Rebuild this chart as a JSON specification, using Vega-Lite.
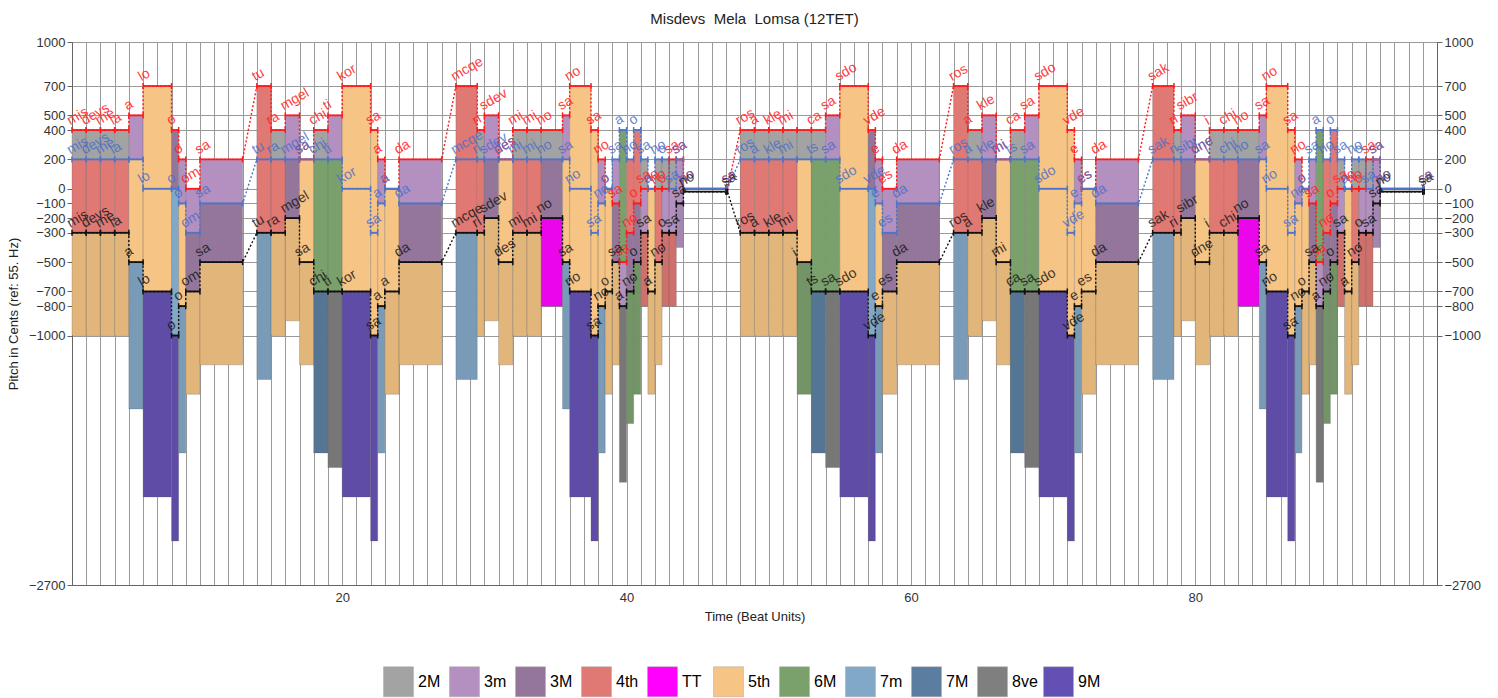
{
"$schema":"https://vega.github.io/schema/vega-lite/v6.json",
"width":1365,"height":543,
"autosize":{"type":"none"},
"padding":{"left":72,"top":42,"right":61,"bottom":113},
"background":"white",
"title":{"text":"Misdevs\u00a0 Mela\u00a0 Lomsa (12TET)","fontSize":15,"fontWeight":"normal","font":"Liberation Sans","color":"#222","offset":9,"anchor":"middle"},
"config":{"font":"Liberation Sans","view":{"stroke":"#666","strokeWidth":1},
"axis":{"labelFont":"Liberation Sans","labelFontSize":13,"labelColor":"#333","titleFont":"Liberation Sans","titleFontSize":13,"titleFontWeight":"normal","titleColor":"#222","domainColor":"#666","tickColor":"#666","gridColor":"#9a9a9a","gridOpacity":1},
"legend":{"labelFont":"Liberation Sans"}},
"datasets":{
"seg":[
{"a":1,"b":2,"r":400,"u":200,"k":-300,"s":"mis"},
{"a":2,"b":3,"r":400,"u":200,"k":-300,"s":"devs"},
{"a":3,"b":4,"r":400,"u":200,"k":-300,"s":"me"},
{"a":4,"b":5,"r":400,"u":200,"k":-300,"s":"la"},
{"a":5,"b":6,"r":500,"u":200,"k":-500,"s":"a","su":""},
{"a":6,"b":8,"r":700,"u":0,"k":-700,"s":"lo"},
{"a":8,"b":8.5,"r":400,"u":0,"k":-1000,"s":"o"},
{"a":8.5,"b":9,"r":200,"u":-100,"k":-800,"s":"o"},
{"a":9,"b":10,"r":0,"u":-300,"k":-700,"s":"om"},
{"a":10,"b":13,"r":200,"u":-100,"k":-500,"s":"sa"},
{"a":14,"b":15,"r":700,"u":200,"k":-300,"s":"tu"},
{"a":15,"b":16,"r":400,"u":200,"k":-300,"s":"ra"},
{"a":16,"b":17,"r":500,"u":200,"k":-200,"s":"mgel"},
{"a":17,"b":18,"r":200,"u":200,"k":-500,"s":"sa"},
{"a":18,"b":19,"r":400,"u":200,"k":-700,"s":"chi"},
{"a":19,"b":20,"r":500,"u":200,"k":-700,"s":"ti"},
{"a":20,"b":22,"r":700,"u":0,"k":-700,"s":"kor"},
{"a":22,"b":22.5,"r":400,"u":-300,"k":-1000,"s":"sa"},
{"a":22.5,"b":23,"r":200,"u":-100,"k":-800,"s":"a"},
{"a":23,"b":24,"r":0,"u":0,"k":-700,"s":"a"},
{"a":24,"b":27,"r":200,"u":-100,"k":-500,"s":"da"},
{"a":28,"b":29.5,"r":700,"u":200,"k":-300,"s":"mcqe"},
{"a":29.5,"b":30,"r":400,"u":200,"k":-300,"s":"ri"},
{"a":30,"b":31,"r":500,"u":200,"k":-200,"s":"sdev"},
{"a":31,"b":32,"r":200,"u":200,"k":-500,"s":"des"},
{"a":32,"b":33,"r":400,"u":200,"k":-300,"s":"mi"},
{"a":33,"b":34,"r":400,"u":200,"k":-300,"s":"mi"},
{"a":34,"b":35.5,"r":400,"u":200,"k":-200,"s":"no"},
{"a":35.5,"b":36,"r":500,"u":200,"k":-500,"s":"sa"},
{"a":36,"b":37.5,"r":700,"u":0,"k":-700,"s":"no"},
{"a":37.5,"b":38,"r":400,"u":-300,"k":-1000,"s":"sa"},
{"a":38,"b":38.5,"r":200,"u":-100,"k":-800,"s":"no"},
{"a":38.5,"b":39,"r":0,"u":0,"k":-700,"s":"o"},
{"a":39,"b":39.5,"r":-100,"u":200,"k":-500,"s":"sa"},
{"a":39.5,"b":40,"r":-500,"u":400,"k":-800,"s":"a","sr":"sa"},
{"a":40,"b":40.5,"r":-300,"u":200,"k":-700,"s":"no"},
{"a":40.5,"b":41,"r":-100,"u":400,"k":-500,"s":"o"},
{"a":41,"b":41.5,"r":0,"u":200,"k":-300,"s":"sa"},
{"a":41.5,"b":42,"r":0,"u":0,"k":-700,"s":"a","sr":"no"},
{"a":42,"b":42.5,"r":0,"u":200,"k":-500,"s":"no"},
{"a":42.5,"b":43,"r":0,"u":200,"k":-300,"s":"o"},
{"a":43,"b":43.5,"r":200,"u":0,"k":-300,"s":"sa"},
{"a":43.5,"b":44,"r":200,"u":200,"k":-100,"s":"sa"},
{"a":44,"b":47,"r":0,"u":0,"k":-20,"s":"no"},
{"a":47,"b":47.1,"r":0,"u":0,"k":-20,"s":"sa"},
{"a":48,"b":49,"r":400,"u":200,"k":-300,"s":"ros"},
{"a":49,"b":50,"r":400,"u":200,"k":-300,"s":"a"},
{"a":50,"b":51,"r":400,"u":200,"k":-300,"s":"kle"},
{"a":51,"b":52,"r":400,"u":200,"k":-300,"s":"mi"},
{"a":52,"b":53,"r":400,"u":200,"k":-500,"s":"","sk":"i"},
{"a":53,"b":54,"r":400,"u":200,"k":-700,"s":"ts","sr":"ca"},
{"a":54,"b":55,"r":500,"u":200,"k":-700,"s":"sa"},
{"a":55,"b":57,"r":700,"u":0,"k":-700,"s":"sdo"},
{"a":57,"b":57.5,"r":400,"u":0,"k":-1000,"s":"vde"},
{"a":57.5,"b":58,"r":200,"u":-100,"k":-800,"s":"e"},
{"a":58,"b":59,"r":0,"u":-300,"k":-700,"s":"es"},
{"a":59,"b":62,"r":200,"u":-100,"k":-500,"s":"da"},
{"a":63,"b":64,"r":700,"u":200,"k":-300,"s":"ros"},
{"a":64,"b":65,"r":400,"u":200,"k":-300,"s":"a"},
{"a":65,"b":66,"r":500,"u":200,"k":-200,"s":"kle"},
{"a":66,"b":67,"r":200,"u":200,"k":-500,"s":"mi"},
{"a":67,"b":68,"r":400,"u":200,"k":-700,"s":"ca","su":"ts"},
{"a":68,"b":69,"r":500,"u":200,"k":-700,"s":"sa"},
{"a":69,"b":71,"r":700,"u":0,"k":-700,"s":"sdo"},
{"a":71,"b":71.5,"r":400,"u":-300,"k":-1000,"s":"vde"},
{"a":71.5,"b":72,"r":200,"u":-100,"k":-800,"s":"e"},
{"a":72,"b":73,"r":0,"u":0,"k":-700,"s":"es"},
{"a":73,"b":76,"r":200,"u":-100,"k":-500,"s":"da"},
{"a":77,"b":78.5,"r":700,"u":200,"k":-300,"s":"sak"},
{"a":78.5,"b":79,"r":400,"u":200,"k":-300,"s":"ri"},
{"a":79,"b":80,"r":500,"u":200,"k":-200,"s":"sibr"},
{"a":80,"b":81,"r":200,"u":200,"k":-500,"s":"dne"},
{"a":81,"b":82,"r":400,"u":200,"k":-300,"s":"i"},
{"a":82,"b":83,"r":400,"u":200,"k":-300,"s":"chi"},
{"a":83,"b":84.5,"r":400,"u":200,"k":-200,"s":"no"},
{"a":84.5,"b":85,"r":500,"u":200,"k":-500,"s":"sa"},
{"a":85,"b":86.5,"r":700,"u":0,"k":-700,"s":"no"},
{"a":86.5,"b":87,"r":400,"u":-300,"k":-1000,"s":"sa"},
{"a":87,"b":87.5,"r":200,"u":-100,"k":-800,"s":"no"},
{"a":87.5,"b":88,"r":0,"u":0,"k":-700,"s":"o"},
{"a":88,"b":88.5,"r":-100,"u":200,"k":-500,"s":"sa"},
{"a":88.5,"b":89,"r":-500,"u":400,"k":-800,"s":"a","sr":"sa"},
{"a":89,"b":89.5,"r":-300,"u":200,"k":-700,"s":"no"},
{"a":89.5,"b":90,"r":-100,"u":400,"k":-500,"s":"o"},
{"a":90,"b":90.5,"r":0,"u":200,"k":-300,"s":"sa"},
{"a":90.5,"b":91,"r":0,"u":0,"k":-700,"s":"a","sr":"no"},
{"a":91,"b":91.5,"r":0,"u":200,"k":-500,"s":"no"},
{"a":91.5,"b":92,"r":0,"u":200,"k":-300,"s":"o"},
{"a":92,"b":92.5,"r":200,"u":0,"k":-300,"s":"sa"},
{"a":92.5,"b":93,"r":200,"u":200,"k":-100,"s":"sa"},
{"a":93,"b":96,"r":0,"u":0,"k":-20,"s":"no"},
{"a":96,"b":96.1,"r":0,"u":0,"k":-20,"s":"sa"}
],
"bars":[
{"a":1,"b":2,"lo":200,"hi":400,"iv":"2M"},{"a":1,"b":2,"lo":-300,"hi":200,"iv":"4th"},{"a":1,"b":2,"lo":-1000,"hi":-300,"iv":"5th","h":1},
{"a":2,"b":3,"lo":200,"hi":400,"iv":"2M"},{"a":2,"b":3,"lo":-300,"hi":200,"iv":"4th"},{"a":2,"b":3,"lo":-1000,"hi":-300,"iv":"5th","h":1},
{"a":3,"b":4,"lo":200,"hi":400,"iv":"2M"},{"a":3,"b":4,"lo":-300,"hi":200,"iv":"4th"},{"a":3,"b":4,"lo":-1000,"hi":-300,"iv":"5th","h":1},
{"a":4,"b":5,"lo":200,"hi":400,"iv":"2M"},{"a":4,"b":5,"lo":-300,"hi":200,"iv":"4th"},{"a":4,"b":5,"lo":-1000,"hi":-300,"iv":"5th","h":1},
{"a":5,"b":6,"lo":200,"hi":500,"iv":"3m"},{"a":5,"b":6,"lo":-500,"hi":200,"iv":"5th"},{"a":5,"b":6,"lo":-1500,"hi":-500,"iv":"7m","h":1},
{"a":6,"b":8,"lo":0,"hi":700,"iv":"5th"},{"a":6,"b":8,"lo":-700,"hi":0,"iv":"5th"},{"a":6,"b":8,"lo":-2100,"hi":-700,"iv":"9M","h":1},
{"a":8,"b":8.5,"lo":0,"hi":400,"iv":"3M"},{"a":8,"b":8.5,"lo":-1000,"hi":0,"iv":"7m"},{"a":8,"b":8.5,"lo":-2400,"hi":-1000,"iv":"9M","h":1},
{"a":8.5,"b":9,"lo":-100,"hi":200,"iv":"3m"},{"a":8.5,"b":9,"lo":-800,"hi":-100,"iv":"5th"},{"a":8.5,"b":9,"lo":-1800,"hi":-800,"iv":"7m","h":1},
{"a":9,"b":10,"lo":-300,"hi":0,"iv":"3m"},{"a":9,"b":10,"lo":-700,"hi":-300,"iv":"3M"},{"a":9,"b":10,"lo":-1400,"hi":-700,"iv":"5th","h":1},
{"a":10,"b":13,"lo":-100,"hi":200,"iv":"3m"},{"a":10,"b":13,"lo":-500,"hi":-100,"iv":"3M"},{"a":10,"b":13,"lo":-1200,"hi":-500,"iv":"5th","h":1},
{"a":14,"b":15,"lo":200,"hi":700,"iv":"4th"},{"a":14,"b":15,"lo":-300,"hi":200,"iv":"4th"},{"a":14,"b":15,"lo":-1300,"hi":-300,"iv":"7m","h":1},
{"a":15,"b":16,"lo":200,"hi":400,"iv":"2M"},{"a":15,"b":16,"lo":-300,"hi":200,"iv":"4th"},{"a":15,"b":16,"lo":-1000,"hi":-300,"iv":"5th","h":1},
{"a":16,"b":17,"lo":200,"hi":500,"iv":"3m"},{"a":16,"b":17,"lo":-200,"hi":200,"iv":"3M"},{"a":16,"b":17,"lo":-900,"hi":-200,"iv":"5th","h":1},
{"a":17,"b":18,"lo":-500,"hi":200,"iv":"5th"},{"a":17,"b":18,"lo":-1200,"hi":-500,"iv":"5th","h":1},
{"a":18,"b":19,"lo":200,"hi":400,"iv":"2M"},{"a":18,"b":19,"lo":-700,"hi":200,"iv":"6M"},{"a":18,"b":19,"lo":-1800,"hi":-700,"iv":"7M","h":1},
{"a":19,"b":20,"lo":200,"hi":500,"iv":"3m"},{"a":19,"b":20,"lo":-700,"hi":200,"iv":"6M"},{"a":19,"b":20,"lo":-1900,"hi":-700,"iv":"8ve","h":1},
{"a":20,"b":22,"lo":0,"hi":700,"iv":"5th"},{"a":20,"b":22,"lo":-700,"hi":0,"iv":"5th"},{"a":20,"b":22,"lo":-2100,"hi":-700,"iv":"9M","h":1},
{"a":22,"b":22.5,"lo":-300,"hi":400,"iv":"5th"},{"a":22,"b":22.5,"lo":-1000,"hi":-300,"iv":"5th"},{"a":22,"b":22.5,"lo":-2400,"hi":-1000,"iv":"9M","h":1},
{"a":22.5,"b":23,"lo":-100,"hi":200,"iv":"3m"},{"a":22.5,"b":23,"lo":-800,"hi":-100,"iv":"5th"},{"a":22.5,"b":23,"lo":-1800,"hi":-800,"iv":"7m","h":1},
{"a":23,"b":24,"lo":-700,"hi":0,"iv":"5th"},{"a":23,"b":24,"lo":-1400,"hi":-700,"iv":"5th","h":1},
{"a":24,"b":27,"lo":-100,"hi":200,"iv":"3m"},{"a":24,"b":27,"lo":-500,"hi":-100,"iv":"3M"},{"a":24,"b":27,"lo":-1200,"hi":-500,"iv":"5th","h":1},
{"a":28,"b":29.5,"lo":200,"hi":700,"iv":"4th"},{"a":28,"b":29.5,"lo":-300,"hi":200,"iv":"4th"},{"a":28,"b":29.5,"lo":-1300,"hi":-300,"iv":"7m","h":1},
{"a":29.5,"b":30,"lo":200,"hi":400,"iv":"2M"},{"a":29.5,"b":30,"lo":-300,"hi":200,"iv":"4th"},{"a":29.5,"b":30,"lo":-1000,"hi":-300,"iv":"5th","h":1},
{"a":30,"b":31,"lo":200,"hi":500,"iv":"3m"},{"a":30,"b":31,"lo":-200,"hi":200,"iv":"3M"},{"a":30,"b":31,"lo":-900,"hi":-200,"iv":"5th","h":1},
{"a":31,"b":32,"lo":-500,"hi":200,"iv":"5th"},{"a":31,"b":32,"lo":-1200,"hi":-500,"iv":"5th","h":1},
{"a":32,"b":33,"lo":200,"hi":400,"iv":"2M"},{"a":32,"b":33,"lo":-300,"hi":200,"iv":"4th"},{"a":32,"b":33,"lo":-1000,"hi":-300,"iv":"5th","h":1},
{"a":33,"b":34,"lo":200,"hi":400,"iv":"2M"},{"a":33,"b":34,"lo":-300,"hi":200,"iv":"4th"},{"a":33,"b":34,"lo":-1000,"hi":-300,"iv":"5th","h":1},
{"a":34,"b":35.5,"lo":200,"hi":400,"iv":"2M"},{"a":34,"b":35.5,"lo":-200,"hi":200,"iv":"3M"},{"a":34,"b":35.5,"lo":-800,"hi":-200,"iv":"TT","h":1},
{"a":35.5,"b":36,"lo":200,"hi":500,"iv":"3m"},{"a":35.5,"b":36,"lo":-500,"hi":200,"iv":"5th"},{"a":35.5,"b":36,"lo":-1500,"hi":-500,"iv":"7m","h":1},
{"a":36,"b":37.5,"lo":0,"hi":700,"iv":"5th"},{"a":36,"b":37.5,"lo":-700,"hi":0,"iv":"5th"},{"a":36,"b":37.5,"lo":-2100,"hi":-700,"iv":"9M","h":1},
{"a":37.5,"b":38,"lo":-300,"hi":400,"iv":"5th"},{"a":37.5,"b":38,"lo":-1000,"hi":-300,"iv":"5th"},{"a":37.5,"b":38,"lo":-2400,"hi":-1000,"iv":"9M","h":1},
{"a":38,"b":38.5,"lo":-100,"hi":200,"iv":"3m"},{"a":38,"b":38.5,"lo":-800,"hi":-100,"iv":"5th"},{"a":38,"b":38.5,"lo":-1800,"hi":-800,"iv":"7m","h":1},
{"a":38.5,"b":39,"lo":-700,"hi":0,"iv":"5th"},{"a":38.5,"b":39,"lo":-1400,"hi":-700,"iv":"5th","h":1},
{"a":39,"b":39.5,"lo":-100,"hi":200,"iv":"3m"},{"a":39,"b":39.5,"lo":-500,"hi":-100,"iv":"3M"},{"a":39,"b":39.5,"lo":-1200,"hi":-500,"iv":"5th","h":1},
{"a":39.5,"b":40,"lo":-500,"hi":400,"iv":"6M"},{"a":39.5,"b":40,"lo":-800,"hi":-500,"iv":"3m"},{"a":39.5,"b":40,"lo":-2000,"hi":-800,"iv":"8ve","h":1},
{"a":40,"b":40.5,"lo":-300,"hi":200,"iv":"4th"},{"a":40,"b":40.5,"lo":-700,"hi":-300,"iv":"3M"},{"a":40,"b":40.5,"lo":-1600,"hi":-700,"iv":"6M","h":1},
{"a":40.5,"b":41,"lo":-100,"hi":400,"iv":"4th"},{"a":40.5,"b":41,"lo":-500,"hi":-100,"iv":"3M"},{"a":40.5,"b":41,"lo":-1400,"hi":-500,"iv":"6M","h":1},
{"a":41,"b":41.5,"lo":0,"hi":200,"iv":"2M"},{"a":41,"b":41.5,"lo":-300,"hi":0,"iv":"3m"},{"a":41,"b":41.5,"lo":-800,"hi":-300,"iv":"4th","h":1},
{"a":41.5,"b":42,"lo":-700,"hi":0,"iv":"5th"},{"a":41.5,"b":42,"lo":-1400,"hi":-700,"iv":"5th","h":1},
{"a":42,"b":42.5,"lo":0,"hi":200,"iv":"2M"},{"a":42,"b":42.5,"lo":-500,"hi":0,"iv":"4th"},{"a":42,"b":42.5,"lo":-1200,"hi":-500,"iv":"5th","h":1},
{"a":42.5,"b":43,"lo":0,"hi":200,"iv":"2M"},{"a":42.5,"b":43,"lo":-300,"hi":0,"iv":"3m"},{"a":42.5,"b":43,"lo":-800,"hi":-300,"iv":"4th","h":1},
{"a":43,"b":43.5,"lo":0,"hi":200,"iv":"2M"},{"a":43,"b":43.5,"lo":-300,"hi":0,"iv":"3m"},{"a":43,"b":43.5,"lo":-800,"hi":-300,"iv":"4th","h":1},
{"a":43.5,"b":44,"lo":-100,"hi":200,"iv":"3m"},{"a":43.5,"b":44,"lo":-400,"hi":-100,"iv":"3m","h":1},
{"a":48,"b":49,"lo":200,"hi":400,"iv":"2M"},{"a":48,"b":49,"lo":-300,"hi":200,"iv":"4th"},{"a":48,"b":49,"lo":-1000,"hi":-300,"iv":"5th","h":1},
{"a":49,"b":50,"lo":200,"hi":400,"iv":"2M"},{"a":49,"b":50,"lo":-300,"hi":200,"iv":"4th"},{"a":49,"b":50,"lo":-1000,"hi":-300,"iv":"5th","h":1},
{"a":50,"b":51,"lo":200,"hi":400,"iv":"2M"},{"a":50,"b":51,"lo":-300,"hi":200,"iv":"4th"},{"a":50,"b":51,"lo":-1000,"hi":-300,"iv":"5th","h":1},
{"a":51,"b":52,"lo":200,"hi":400,"iv":"2M"},{"a":51,"b":52,"lo":-300,"hi":200,"iv":"4th"},{"a":51,"b":52,"lo":-1000,"hi":-300,"iv":"5th","h":1},
{"a":52,"b":53,"lo":200,"hi":400,"iv":"2M"},{"a":52,"b":53,"lo":-500,"hi":200,"iv":"5th"},{"a":52,"b":53,"lo":-1400,"hi":-500,"iv":"6M","h":1},
{"a":53,"b":54,"lo":200,"hi":400,"iv":"2M"},{"a":53,"b":54,"lo":-700,"hi":200,"iv":"6M"},{"a":53,"b":54,"lo":-1800,"hi":-700,"iv":"7M","h":1},
{"a":54,"b":55,"lo":200,"hi":500,"iv":"3m"},{"a":54,"b":55,"lo":-700,"hi":200,"iv":"6M"},{"a":54,"b":55,"lo":-1900,"hi":-700,"iv":"8ve","h":1},
{"a":55,"b":57,"lo":0,"hi":700,"iv":"5th"},{"a":55,"b":57,"lo":-700,"hi":0,"iv":"5th"},{"a":55,"b":57,"lo":-2100,"hi":-700,"iv":"9M","h":1},
{"a":57,"b":57.5,"lo":0,"hi":400,"iv":"3M"},{"a":57,"b":57.5,"lo":-1000,"hi":0,"iv":"7m"},{"a":57,"b":57.5,"lo":-2400,"hi":-1000,"iv":"9M","h":1},
{"a":57.5,"b":58,"lo":-100,"hi":200,"iv":"3m"},{"a":57.5,"b":58,"lo":-800,"hi":-100,"iv":"5th"},{"a":57.5,"b":58,"lo":-1800,"hi":-800,"iv":"7m","h":1},
{"a":58,"b":59,"lo":-300,"hi":0,"iv":"3m"},{"a":58,"b":59,"lo":-700,"hi":-300,"iv":"3M"},{"a":58,"b":59,"lo":-1400,"hi":-700,"iv":"5th","h":1},
{"a":59,"b":62,"lo":-100,"hi":200,"iv":"3m"},{"a":59,"b":62,"lo":-500,"hi":-100,"iv":"3M"},{"a":59,"b":62,"lo":-1200,"hi":-500,"iv":"5th","h":1},
{"a":63,"b":64,"lo":200,"hi":700,"iv":"4th"},{"a":63,"b":64,"lo":-300,"hi":200,"iv":"4th"},{"a":63,"b":64,"lo":-1300,"hi":-300,"iv":"7m","h":1},
{"a":64,"b":65,"lo":200,"hi":400,"iv":"2M"},{"a":64,"b":65,"lo":-300,"hi":200,"iv":"4th"},{"a":64,"b":65,"lo":-1000,"hi":-300,"iv":"5th","h":1},
{"a":65,"b":66,"lo":200,"hi":500,"iv":"3m"},{"a":65,"b":66,"lo":-200,"hi":200,"iv":"3M"},{"a":65,"b":66,"lo":-900,"hi":-200,"iv":"5th","h":1},
{"a":66,"b":67,"lo":-500,"hi":200,"iv":"5th"},{"a":66,"b":67,"lo":-1200,"hi":-500,"iv":"5th","h":1},
{"a":67,"b":68,"lo":200,"hi":400,"iv":"2M"},{"a":67,"b":68,"lo":-700,"hi":200,"iv":"6M"},{"a":67,"b":68,"lo":-1800,"hi":-700,"iv":"7M","h":1},
{"a":68,"b":69,"lo":200,"hi":500,"iv":"3m"},{"a":68,"b":69,"lo":-700,"hi":200,"iv":"6M"},{"a":68,"b":69,"lo":-1900,"hi":-700,"iv":"8ve","h":1},
{"a":69,"b":71,"lo":0,"hi":700,"iv":"5th"},{"a":69,"b":71,"lo":-700,"hi":0,"iv":"5th"},{"a":69,"b":71,"lo":-2100,"hi":-700,"iv":"9M","h":1},
{"a":71,"b":71.5,"lo":-300,"hi":400,"iv":"5th"},{"a":71,"b":71.5,"lo":-1000,"hi":-300,"iv":"5th"},{"a":71,"b":71.5,"lo":-2400,"hi":-1000,"iv":"9M","h":1},
{"a":71.5,"b":72,"lo":-100,"hi":200,"iv":"3m"},{"a":71.5,"b":72,"lo":-800,"hi":-100,"iv":"5th"},{"a":71.5,"b":72,"lo":-1800,"hi":-800,"iv":"7m","h":1},
{"a":72,"b":73,"lo":-700,"hi":0,"iv":"5th"},{"a":72,"b":73,"lo":-1400,"hi":-700,"iv":"5th","h":1},
{"a":73,"b":76,"lo":-100,"hi":200,"iv":"3m"},{"a":73,"b":76,"lo":-500,"hi":-100,"iv":"3M"},{"a":73,"b":76,"lo":-1200,"hi":-500,"iv":"5th","h":1},
{"a":77,"b":78.5,"lo":200,"hi":700,"iv":"4th"},{"a":77,"b":78.5,"lo":-300,"hi":200,"iv":"4th"},{"a":77,"b":78.5,"lo":-1300,"hi":-300,"iv":"7m","h":1},
{"a":78.5,"b":79,"lo":200,"hi":400,"iv":"2M"},{"a":78.5,"b":79,"lo":-300,"hi":200,"iv":"4th"},{"a":78.5,"b":79,"lo":-1000,"hi":-300,"iv":"5th","h":1},
{"a":79,"b":80,"lo":200,"hi":500,"iv":"3m"},{"a":79,"b":80,"lo":-200,"hi":200,"iv":"3M"},{"a":79,"b":80,"lo":-900,"hi":-200,"iv":"5th","h":1},
{"a":80,"b":81,"lo":-500,"hi":200,"iv":"5th"},{"a":80,"b":81,"lo":-1200,"hi":-500,"iv":"5th","h":1},
{"a":81,"b":82,"lo":200,"hi":400,"iv":"2M"},{"a":81,"b":82,"lo":-300,"hi":200,"iv":"4th"},{"a":81,"b":82,"lo":-1000,"hi":-300,"iv":"5th","h":1},
{"a":82,"b":83,"lo":200,"hi":400,"iv":"2M"},{"a":82,"b":83,"lo":-300,"hi":200,"iv":"4th"},{"a":82,"b":83,"lo":-1000,"hi":-300,"iv":"5th","h":1},
{"a":83,"b":84.5,"lo":200,"hi":400,"iv":"2M"},{"a":83,"b":84.5,"lo":-200,"hi":200,"iv":"3M"},{"a":83,"b":84.5,"lo":-800,"hi":-200,"iv":"TT","h":1},
{"a":84.5,"b":85,"lo":200,"hi":500,"iv":"3m"},{"a":84.5,"b":85,"lo":-500,"hi":200,"iv":"5th"},{"a":84.5,"b":85,"lo":-1500,"hi":-500,"iv":"7m","h":1},
{"a":85,"b":86.5,"lo":0,"hi":700,"iv":"5th"},{"a":85,"b":86.5,"lo":-700,"hi":0,"iv":"5th"},{"a":85,"b":86.5,"lo":-2100,"hi":-700,"iv":"9M","h":1},
{"a":86.5,"b":87,"lo":-300,"hi":400,"iv":"5th"},{"a":86.5,"b":87,"lo":-1000,"hi":-300,"iv":"5th"},{"a":86.5,"b":87,"lo":-2400,"hi":-1000,"iv":"9M","h":1},
{"a":87,"b":87.5,"lo":-100,"hi":200,"iv":"3m"},{"a":87,"b":87.5,"lo":-800,"hi":-100,"iv":"5th"},{"a":87,"b":87.5,"lo":-1800,"hi":-800,"iv":"7m","h":1},
{"a":87.5,"b":88,"lo":-700,"hi":0,"iv":"5th"},{"a":87.5,"b":88,"lo":-1400,"hi":-700,"iv":"5th","h":1},
{"a":88,"b":88.5,"lo":-100,"hi":200,"iv":"3m"},{"a":88,"b":88.5,"lo":-500,"hi":-100,"iv":"3M"},{"a":88,"b":88.5,"lo":-1200,"hi":-500,"iv":"5th","h":1},
{"a":88.5,"b":89,"lo":-500,"hi":400,"iv":"6M"},{"a":88.5,"b":89,"lo":-800,"hi":-500,"iv":"3m"},{"a":88.5,"b":89,"lo":-2000,"hi":-800,"iv":"8ve","h":1},
{"a":89,"b":89.5,"lo":-300,"hi":200,"iv":"4th"},{"a":89,"b":89.5,"lo":-700,"hi":-300,"iv":"3M"},{"a":89,"b":89.5,"lo":-1600,"hi":-700,"iv":"6M","h":1},
{"a":89.5,"b":90,"lo":-100,"hi":400,"iv":"4th"},{"a":89.5,"b":90,"lo":-500,"hi":-100,"iv":"3M"},{"a":89.5,"b":90,"lo":-1400,"hi":-500,"iv":"6M","h":1},
{"a":90,"b":90.5,"lo":0,"hi":200,"iv":"2M"},{"a":90,"b":90.5,"lo":-300,"hi":0,"iv":"3m"},{"a":90,"b":90.5,"lo":-800,"hi":-300,"iv":"4th","h":1},
{"a":90.5,"b":91,"lo":-700,"hi":0,"iv":"5th"},{"a":90.5,"b":91,"lo":-1400,"hi":-700,"iv":"5th","h":1},
{"a":91,"b":91.5,"lo":0,"hi":200,"iv":"2M"},{"a":91,"b":91.5,"lo":-500,"hi":0,"iv":"4th"},{"a":91,"b":91.5,"lo":-1200,"hi":-500,"iv":"5th","h":1},
{"a":91.5,"b":92,"lo":0,"hi":200,"iv":"2M"},{"a":91.5,"b":92,"lo":-300,"hi":0,"iv":"3m"},{"a":91.5,"b":92,"lo":-800,"hi":-300,"iv":"4th","h":1},
{"a":92,"b":92.5,"lo":0,"hi":200,"iv":"2M"},{"a":92,"b":92.5,"lo":-300,"hi":0,"iv":"3m"},{"a":92,"b":92.5,"lo":-800,"hi":-300,"iv":"4th","h":1},
{"a":92.5,"b":93,"lo":-100,"hi":200,"iv":"3m"},{"a":92.5,"b":93,"lo":-400,"hi":-100,"iv":"3m","h":1}
]
},
"layer":[
{"data":{"name":"bars"},
 "mark":{"type":"rect","stroke":"#666","strokeWidth":0.4,"strokeOpacity":0.7},
 "encoding":{
  "x":{"field":"a","type":"quantitative","scale":{"domain":[1,97],"nice":false,"zero":false},"title":"Time (Beat Units)",
       "axis":{"values":[1,2,3,4,5,6,7,8,9,10,11,12,13,14,15,16,17,18,19,20,21,22,23,24,25,26,27,28,29,30,31,32,33,34,35,36,37,38,39,40,41,42,43,44,45,46,47,48,49,50,51,52,53,54,55,56,57,58,59,60,61,62,63,64,65,66,67,68,69,70,71,72,73,74,75,76,77,78,79,80,81,82,83,84,85,86,87,88,89,90,91,92,93,94,95,96,97],
               "tickCount":200,"labelOverlap":false,"format":"d",
               "labelExpr":"datum.value % 20 === 0 ? datum.label : ''","grid":true,"ticks":false,"labelPadding":6,"titlePadding":6,"labelFlush":false}},
  "x2":{"field":"b"},
  "y":{"field":"lo","type":"quantitative","scale":{"domain":[-2700,1000],"nice":false,"zero":false},"title":"Pitch in Cents (ref: 55. Hz)",
       "axis":{"orient":"left","values":[1000,700,500,400,200,0,-100,-200,-300,-500,-700,-800,-1000,-2700],"tickCount":50,"grid":true,"format":"d","titlePadding":8,"labelFlush":false}},
  "y2":{"field":"hi"},
  "fill":{"field":"iv","type":"nominal",
    "scale":{"domain":["2M","3m","3M","4th","TT","5th","6M","7m","7M","8ve","9M"],
             "range":["#a3a3a3","#b390bf","#94769b","#e07873","#ff00ff","#f6c484","#7aa06c","#82a8c8","#5a7da0","#7f7f7f","#6450b4"]},
    "legend":{"orient":"none","legendX":311,"legendY":624,"direction":"horizontal","columns":11,"gridAlign":"all","symbolType":"square","symbolSize":900,"symbolStrokeColor":"#aaa","symbolStrokeWidth":0.5,"labelFontSize":16,"labelOffset":4,"columnPadding":4,"title":null}}
 }},
{"data":{"name":"bars"},
 "transform":[{"filter":{"field":"h","equal":1}}],
 "mark":{"type":"rect","fill":"#303030","fillOpacity":0.1},
 "encoding":{
  "x":{"field":"a","type":"quantitative","scale":{"domain":[1,97],"nice":false,"zero":false},"title":"Time (Beat Units)"},
  "x2":{"field":"b"},
  "y":{"field":"lo","type":"quantitative","scale":{"domain":[-2700,1000],"nice":false,"zero":false},"title":null,
       "axis":{"orient":"right","values":[1000,700,500,400,200,0,-100,-200,-300,-500,-700,-800,-1000,-2700],"tickCount":50,"grid":false,"format":"d","labelFlush":false}},
  "y2":{"field":"hi"}
 }},
{"data":{"name":"seg"},
 "transform":[{"fold":["r","u","k"],"as":["v","p"]},{"fold":["a","b"],"as":["e","t"]}],
 "mark":{"type":"line","strokeDash":[2,2],"strokeWidth":1.4},
 "encoding":{
  "x":{"field":"t","type":"quantitative","scale":{"domain":[1,97],"nice":false,"zero":false},"title":"Time (Beat Units)"},
  "y":{"field":"p","type":"quantitative","scale":{"domain":[-2700,1000],"nice":false,"zero":false},"axis":null},
  "stroke":{"field":"v","type":"nominal","scale":{"domain":["r","u","k"],"range":["#ff1a1a","#4f74c8","#111111"]},"legend":null},
  "order":{"value":null}
 }},
{"data":{"name":"seg"},
 "transform":[{"fold":["r","u","k"],"as":["v","p"]}],
 "mark":{"type":"rule","strokeWidth":1.8},
 "encoding":{
  "x":{"field":"a","type":"quantitative","scale":{"domain":[1,97],"nice":false,"zero":false},"title":"Time (Beat Units)"},
  "x2":{"field":"b"},
  "y":{"field":"p","type":"quantitative","scale":{"domain":[-2700,1000],"nice":false,"zero":false},"axis":null},
  "stroke":{"field":"v","type":"nominal","scale":{"domain":["r","u","k"],"range":["#ff1a1a","#4f74c8","#111111"]},"legend":null}
 }},
{"data":{"name":"seg"},
 "transform":[{"fold":["r","u","k"],"as":["v","p"]},{"fold":["a","b"],"as":["e","t"]}],
 "mark":{"type":"rule","strokeWidth":1.5,"yOffset":-3,"y2Offset":3},
 "encoding":{
  "x":{"field":"t","type":"quantitative","scale":{"domain":[1,97],"nice":false,"zero":false},"title":"Time (Beat Units)"},
  "y":{"field":"p","type":"quantitative","scale":{"domain":[-2700,1000],"nice":false,"zero":false},"axis":null},
  "y2":{"field":"p"},
  "stroke":{"field":"v","type":"nominal","scale":{"domain":["r","u","k"],"range":["#ff1a1a","#4f74c8","#111111"]},"legend":null}
 }},
{"data":{"name":"seg"},
 "mark":{"type":"text","color":"#ff2a2a","angle":-30,"align":"left","baseline":"bottom","dx":1,"dy":-2,"fontSize":14,"font":"Liberation Sans","opacity":0.9},
 "encoding":{
  "x":{"field":"a","type":"quantitative","scale":{"domain":[1,97],"nice":false,"zero":false},"title":"Time (Beat Units)"},
  "y":{"field":"r","type":"quantitative","scale":{"domain":[-2700,1000],"nice":false,"zero":false},"axis":null},
  "text":{"condition":{"test":"isValid(datum.sr)","field":"sr"},"field":"s"}
 }},
{"data":{"name":"seg"},
 "mark":{"type":"text","color":"#4f6fc6","angle":-30,"align":"left","baseline":"bottom","dx":1,"dy":-2,"fontSize":14,"font":"Liberation Sans","opacity":0.85},
 "encoding":{
  "x":{"field":"a","type":"quantitative","scale":{"domain":[1,97],"nice":false,"zero":false},"title":"Time (Beat Units)"},
  "y":{"field":"u","type":"quantitative","scale":{"domain":[-2700,1000],"nice":false,"zero":false},"axis":null},
  "text":{"condition":{"test":"isValid(datum.su)","field":"su"},"field":"s"}
 }},
{"data":{"name":"seg"},
 "mark":{"type":"text","color":"#1a1a1a","angle":-30,"align":"left","baseline":"bottom","dx":1,"dy":-2,"fontSize":14,"font":"Liberation Sans","opacity":0.85},
 "encoding":{
  "x":{"field":"a","type":"quantitative","scale":{"domain":[1,97],"nice":false,"zero":false},"title":"Time (Beat Units)"},
  "y":{"field":"k","type":"quantitative","scale":{"domain":[-2700,1000],"nice":false,"zero":false},"axis":null},
  "text":{"condition":{"test":"isValid(datum.sk)","field":"sk"},"field":"s"}
 }}
],
"resolve":{"axis":{"y":"independent"}}
}
